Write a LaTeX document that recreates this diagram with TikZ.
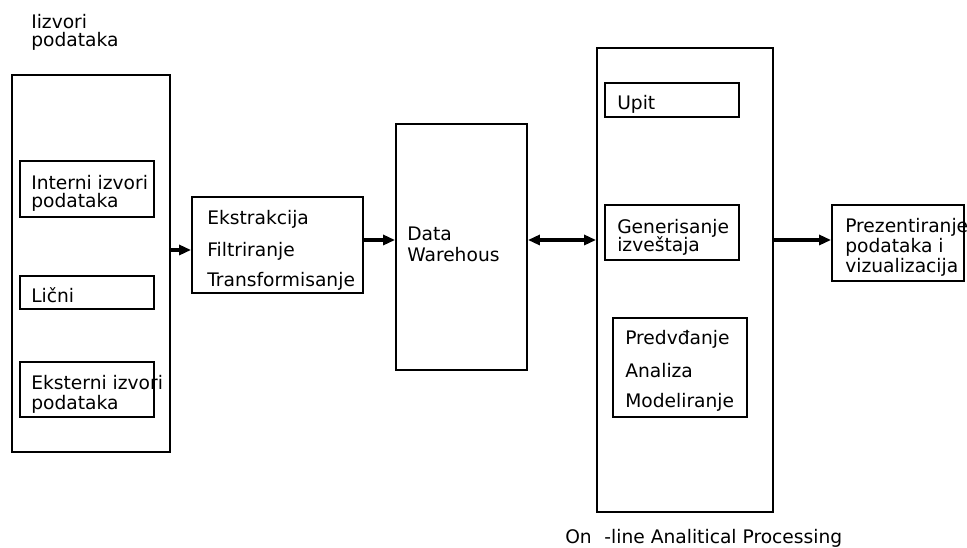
\documentclass[tikz,border=0pt]{standalone}
\usepackage{fontspec}
\setmainfont{DejaVu Sans}
\usetikzlibrary{arrows.meta,fit}
\begin{document}
\begin{tikzpicture}[x=0.75pt,y=-0.75pt,
  box/.style={draw, line width=1.4pt, inner sep=0pt},
  lbl/.style={anchor=base west, inner sep=0pt, font=\fontsize{14}{16}\selectfont},
  arr/.style={line width=2.6pt, -{Triangle[length=9pt,width=7.5pt]}},
  darr/.style={line width=2.6pt, {Triangle[length=9pt,width=7.5pt]}-{Triangle[length=9pt,width=7.5pt]}}]
\useasboundingbox (0,0) rectangle (967,548);

% data sources
\node[lbl] (srcA) at (31,29) {Iizvori};
\node[lbl] (srcB) at (31,47) {podataka};
\node[box, fit={(12,75)(170,452)}] (src) {};
\node[box, fit={(20,161)(154,217)}] (int) {};
\node[lbl] (intA) at (31,190) {Interni izvori};
\node[lbl] (intB) at (31,208) {podataka};
\node[box, fit={(20,276)(154,309)}] (lic) {};
\node[lbl] (licA) at (31,303) {Lični};
\node[box, fit={(20,362)(154,417)}] (ext) {};
\node[lbl] (extA) at (31,390) {Eksterni izvori};
\node[lbl] (extB) at (31,410) {podataka};

% ETL
\node[box, fit={(192,197)(363,293)}] (etf) {};
\node[lbl] (etfA) at (207,225) {Ekstrakcija};
\node[lbl] (etfB) at (207,257) {Filtriranje};
\node[lbl] (etfC) at (207,287) {Transformisanje};

% warehouse
\node[box, fit={(396,124)(527,370)}] (dw) {};
\node[lbl] (dwA) at (407,241) {Data};
\node[lbl] (dwB) at (407,262) {Warehous};

% OLAP
\node[box, fit={(597,48)(773,512)}] (olap) {};
\node[box, fit={(605,83)(739,117)}] (upit) {};
\node[lbl] (upitA) at (617,110) {Upit};
\node[box, fit={(605,205)(739,260)}] (gen) {};
\node[lbl] (genA) at (617,234) {Generisanje};
\node[lbl] (genB) at (617,252) {izveštaja};
\node[box, fit={(613,318)(747,417)}] (pred) {};
\node[lbl] (predA) at (625,345) {Predvđanje};
\node[lbl] (predB) at (625,378) {Analiza};
\node[lbl] (predC) at (625,408) {Modeliranje};
\node[lbl] (olapL) at (565,543) {On\hspace{9.5pt}-line Analitical Processing};

% presentation
\node[box, fit={(832,205)(964,281)}] (prez) {};
\node[lbl] (prezA) at (845,233) {Prezentiranje};
\node[lbl] (prezB) at (845,253) {podataka i};
\node[lbl] (prezC) at (845,273) {vizualizacija};

% flow
\draw[arr] (src.east |- 0,250) -- (etf.west |- 0,250);
\draw[arr] (etf.east |- 0,240) -- (dw.west |- 0,240);
\draw[darr] (dw.east |- 0,240) -- (olap.west |- 0,240);
\draw[arr] (olap.east |- 0,240) -- (prez.west |- 0,240);
\end{tikzpicture}
\end{document}
